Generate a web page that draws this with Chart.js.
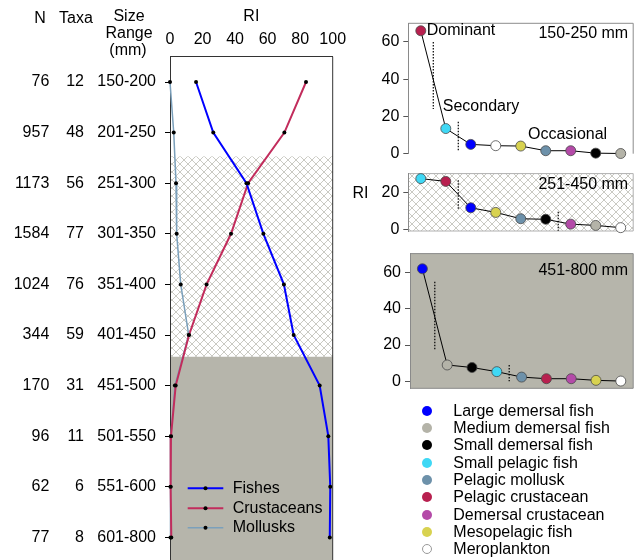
<!DOCTYPE html>
<html><head><meta charset="utf-8">
<script src="https://cdn.jsdelivr.net/npm/chart.js@4.4.1/dist/chart.umd.min.js"></script>
<style>
html,body{margin:0;padding:0;width:639px;height:560px;overflow:hidden;background:#fff;font-family:'Liberation Sans',Arial,sans-serif;}
canvas{position:absolute;}
#legend{position:absolute;left:0;top:0;z-index:5;}
.lt{position:absolute;font-size:16px;line-height:18px;white-space:nowrap;color:#000;}
.ld{position:absolute;width:10px;height:10px;border-radius:50%;box-sizing:border-box;}
</style></head>
<body>
<canvas id="left" width="360" height="600" style="left:0;top:0;width:360px;height:600px"></canvas>
<canvas id="c1" width="299" height="175" style="left:340px;top:0;width:299px;height:175px"></canvas>
<canvas id="c2" width="299" height="95" style="left:340px;top:160px;width:299px;height:95px"></canvas>
<canvas id="c3" width="299" height="165" style="left:340px;top:240px;width:299px;height:165px"></canvas>
<div id="legend"></div>
<script>
// ---------- DATA ----------
const sizeClasses = ['150-200','201-250','251-300','301-350','351-400','401-450','451-500','501-550','551-600','601-800'];
const nPrey = [76,957,1173,1584,1024,344,170,96,62,77];
const nTaxa = [12,48,56,77,76,59,31,11,6,8];
const riFishes = [16,26.6,47,57.4,70,76,92,97.3,98.5,98.2];
const riCrustaceans = [83.6,70.3,48,37.5,22.5,11.7,3.5,0.6,0.4,0.8];
const riMollusks = [0,2.3,3.7,4.1,6.6,11.5,3,0.5,0.3,0.3];
const riTicks = [0,20,40,60,80,100];

const groupNames = ['Large demersal fish','Medium demersal fish','Small demersal fish','Small pelagic fish','Pelagic mollusk','Pelagic crustacean','Demersal crustacean','Mesopelagic fish','Meroplankton'];
const groupColors = ['#0000ff','#b4b3a8','#000000','#3fd8f5','#6d91aa','#b8204f','#b44aa8','#d8d250','#ffffff'];

const order150 = ['Pelagic crustacean','Small pelagic fish','Large demersal fish','Meroplankton','Mesopelagic fish','Pelagic mollusk','Demersal crustacean','Small demersal fish','Medium demersal fish'];
const ri150 = [66,13.5,5,4.3,4.1,1.6,1.6,0.3,0.1];
const order251 = ['Small pelagic fish','Pelagic crustacean','Large demersal fish','Mesopelagic fish','Pelagic mollusk','Small demersal fish','Demersal crustacean','Medium demersal fish','Meroplankton'];
const ri251 = [27.5,26,11.8,9.3,5.9,5.6,3.0,2.3,1.1];
const order451 = ['Large demersal fish','Medium demersal fish','Small demersal fish','Small pelagic fish','Pelagic mollusk','Pelagic crustacean','Demersal crustacean','Mesopelagic fish','Meroplankton'];
const ri451 = [62.2,9,7.6,5.3,2.3,1.4,1.4,0.5,0.1];

// separators: [category position, from RI, to RI]
const seps150 = [[0.5,60,24],[1.5,17.2,1.1]];
const seps251 = [[1.5,26.6,10.5],[5.5,9.6,-0.5]];
const seps451 = [[0.5,55,17],[3.5,9,0]];
// notes: [text, category position, RI]
const notes150 = [['Dominant',0.24,66],['Secondary',0.88,25.2],['Occasional',4.29,10]];

// ---------- STYLE ----------
const FONT = "'Liberation Sans', Arial, sans-serif";
Chart.defaults.font.family = FONT;
Chart.defaults.font.size = 16;
Chart.defaults.color = '#000';
const GRAY = '#b6b5ab';

function hatchPattern(ctx){
  const c = document.createElement('canvas'); c.width = 8; c.height = 8;
  const g = c.getContext('2d');
  g.fillStyle = '#fff'; g.fillRect(0,0,8,8);
  g.strokeStyle = '#bcbcb4'; g.lineWidth = 0.8;
  g.beginPath();
  g.moveTo(-1,-1); g.lineTo(9,9);
  g.moveTo(9,-1); g.lineTo(-1,9);
  g.stroke();
  return ctx.createPattern(c,'repeat');
}

// ---------- LEFT CHART ----------
const leftPlugin = {
  id:'leftDeco',
  beforeDraw(chart){
    const {ctx, chartArea:a, scales:{y}} = chart;
    const yH = y.getPixelForValue(1.47);
    const yG = y.getPixelForValue(5.43);
    ctx.save();
    ctx.fillStyle = hatchPattern(ctx);
    ctx.fillRect(a.left, yH, a.right-a.left, yG-yH);
    ctx.fillStyle = GRAY;
    ctx.fillRect(a.left, yG, a.right-a.left, a.bottom-yG);
    ctx.restore();
  },
  afterDraw(chart){
    const {ctx, chartArea:a, scales:{y}} = chart;
    ctx.save();
    ctx.strokeStyle = '#333'; ctx.lineWidth = 1;
    ctx.beginPath(); ctx.moveTo(a.right, a.top); ctx.lineTo(a.right, a.bottom); ctx.stroke();
    ctx.font = '16px ' + FONT; ctx.fillStyle = '#000'; ctx.textBaseline = 'middle';
    ctx.textAlign = 'right';
    sizeClasses.forEach((_,i)=>{
      const py = y.getPixelForValue(i);
      ctx.fillText(String(nPrey[i]), 49.3, py);
      ctx.fillText(String(nTaxa[i]), 84, py);
    });
    ctx.textAlign = 'center';
    ctx.fillText('N', 40, 19);
    ctx.fillText('Taxa', 76, 19);
    ctx.fillText('Size', 129, 17);
    ctx.fillText('Range', 129, 34);
    ctx.fillText('(mm)', 128, 51);
    // legend
    const rows = [488.3, 508.3, 527.7];
    chart.data.datasets.forEach((ds,i)=>{
      ctx.strokeStyle = ds.borderColor; ctx.lineWidth = ds.borderWidth;
      ctx.beginPath(); ctx.moveTo(187.7, rows[i]); ctx.lineTo(223.3, rows[i]); ctx.stroke();
      ctx.fillStyle = '#000';
      ctx.beginPath(); ctx.arc(205.5, rows[i], 2, 0, Math.PI*2); ctx.fill();
      ctx.textAlign = 'left';
      ctx.fillText(ds.label, 232.7, rows[i]);
    });
    ctx.restore();
  }
};

function lineDs(label, data, color, width){
  return {label, data, borderColor:color, borderWidth:width, pointRadius:2, pointBackgroundColor:'#000',
          pointBorderColor:'#000', pointBorderWidth:0, tension:0, fill:false, clip:false};
}

new Chart(document.getElementById('left'), {
  type:'line',
  data:{labels:sizeClasses, datasets:[
    lineDs('Fishes', riFishes, '#0000ff', 2),
    lineDs('Crustaceans', riCrustaceans, '#c22c5c', 2),
    lineDs('Mollusks', riMollusks, '#7ba0bb', 1.5)
  ]},
  options:{
    indexAxis:'y', responsive:false, animation:false, devicePixelRatio:1,
    layout:{padding:{left:0, right:27.3, top:0, bottom:37.3}},
    plugins:{legend:{display:false}, tooltip:{enabled:false}},
    scales:{
      x:{type:'linear', position:'top', min:0, max:100,
         afterBuildTicks(s){ s.ticks = riTicks.map(v=>({value:v})); },
         ticks:{padding:8, color:'#000', maxRotation:0, minRotation:0, autoSkip:false},
         grid:{display:false, drawTicks:false},
         border:{display:true, color:'#333'},
         title:{display:true, text:'RI', color:'#000', padding:{top:7, bottom:0}},
         afterFit(s){ s.height = 56.7; }},
      y:{type:'category', offset:true,
         ticks:{padding:9, color:'#000', autoSkip:false},
         grid:{offset:false, drawOnChartArea:false, drawTicks:true, tickLength:5, color:'#000'},
         border:{display:true, color:'#333'},
         afterFit(s){ s.width = 170; }}
    }
  },
  plugins:[leftPlugin]
});

// ---------- RIGHT CHARTS ----------
const miniCfg = {
  c1:{bg:'#fff', frame:'#8c8c8c', closed:false, title:'150-250 mm', titleDy:10, seps:seps150, notes:notes150},
  c2:{bg:'hatch', frame:'#b0b0b0', closed:true, title:'251-450 mm', titleDy:10.7, seps:seps251, notes:[], ri:true},
  c3:{bg:GRAY, frame:'#8a8a8a', closed:true, title:'451-800 mm', titleDy:16.7, seps:seps451, notes:[]}
};

const miniPlugin = {
  id:'miniDeco',
  beforeDraw(chart){
    const o = miniCfg[chart.canvas.id];
    const {ctx, chartArea:a} = chart;
    ctx.save();
    ctx.fillStyle = o.bg === 'hatch' ? hatchPattern(ctx) : o.bg;
    ctx.fillRect(a.left, a.top, a.right-a.left, a.bottom-a.top);
    ctx.strokeStyle = o.frame; ctx.lineWidth = 1;
    ctx.beginPath();
    if (o.closed){ ctx.moveTo(a.left, a.bottom); ctx.lineTo(a.right, a.bottom); }
    ctx.moveTo(a.left, a.top); ctx.lineTo(a.right, a.top); ctx.lineTo(a.right, a.bottom);
    ctx.stroke();
    ctx.restore();
  },
  afterDraw(chart){
    const o = miniCfg[chart.canvas.id];
    const {ctx, chartArea:a, scales:{x,y}} = chart;
    ctx.save();
    ctx.setLineDash([1.5,1.5]); ctx.strokeStyle = '#000'; ctx.lineWidth = 1.2;
    o.seps.forEach(s=>{
      const px = x.getPixelForValue(s[0]);
      ctx.beginPath(); ctx.moveTo(px, y.getPixelForValue(s[1])); ctx.lineTo(px, y.getPixelForValue(s[2])); ctx.stroke();
    });
    ctx.setLineDash([]);
    ctx.font = '16px ' + FONT; ctx.fillStyle = '#000'; ctx.textBaseline = 'middle';
    ctx.textAlign = 'right';
    ctx.fillText(o.title, a.right-5, a.top+o.titleDy);
    ctx.textAlign = 'left';
    o.notes.forEach(n=>ctx.fillText(n[0], x.getPixelForValue(n[1]), y.getPixelForValue(n[2])));
    if (o.ri){ ctx.textAlign = 'center'; ctx.fillText('RI', 20.5, 34); }
    ctx.restore();
  }
};

function mini(id, order, values, yMin, yMax, tickVals, pad, yWidth){
  const colors = order.map(g=>groupColors[groupNames.indexOf(g)]);
  new Chart(document.getElementById(id), {
    type:'line',
    data:{labels:order, datasets:[{data:values, borderColor:'#000', borderWidth:1, tension:0, fill:false, clip:false,
      pointRadius:5, pointBackgroundColor:colors, pointBorderColor:'#4a4a4a', pointBorderWidth:0.8}]},
    options:{
      responsive:false, animation:false, devicePixelRatio:1,
      layout:{padding:pad},
      plugins:{legend:{display:false}, tooltip:{enabled:false}},
      scales:{
        x:{type:'category', offset:true, display:false},
        y:{min:yMin, max:yMax,
           afterBuildTicks(s){ s.ticks = tickVals.map(v=>({value:v})); },
           ticks:{padding:4, color:'#000'},
           grid:{drawOnChartArea:false, drawTicks:true, tickLength:5, color:'#555'},
           border:{display:true, color:'#8a8a8a'},
           afterFit(s){ s.width = yWidth; }}
      }
    },
    plugins:[miniPlugin]
  });
}

mini('c1', order150, ri150, 0, 70, [0,20,40,60], {left:0, right:4, top:23.3, bottom:21.3}, 68.3);
mini('c2', order251, ri251, -0.7, 30.2, [0,20], {left:0, right:4.7, top:13.3, bottom:24}, 68.3);
mini('c3', order451, ri451, -3.9, 70.6, [0,20,40,60], {left:0, right:3.3, top:8.3, bottom:16.7}, 70);

// ---------- RIGHT LEGEND ----------
const leg = document.getElementById('legend');
groupNames.forEach((g,i)=>{
  const cy = 410.7 + i*17.3;
  const d = document.createElement('div');
  d.className = 'ld';
  d.style.left = (426.7-5)+'px'; d.style.top = (cy-5)+'px';
  d.style.background = groupColors[i];
  d.style.border = groupColors[i] === '#ffffff' ? '1px solid #999' : 'none';
  leg.appendChild(d);
  const t = document.createElement('div');
  t.className = 'lt';
  t.style.left = '453.3px'; t.style.top = (cy-9)+'px';
  t.textContent = g;
  leg.appendChild(t);
});
</script>
</body></html>
